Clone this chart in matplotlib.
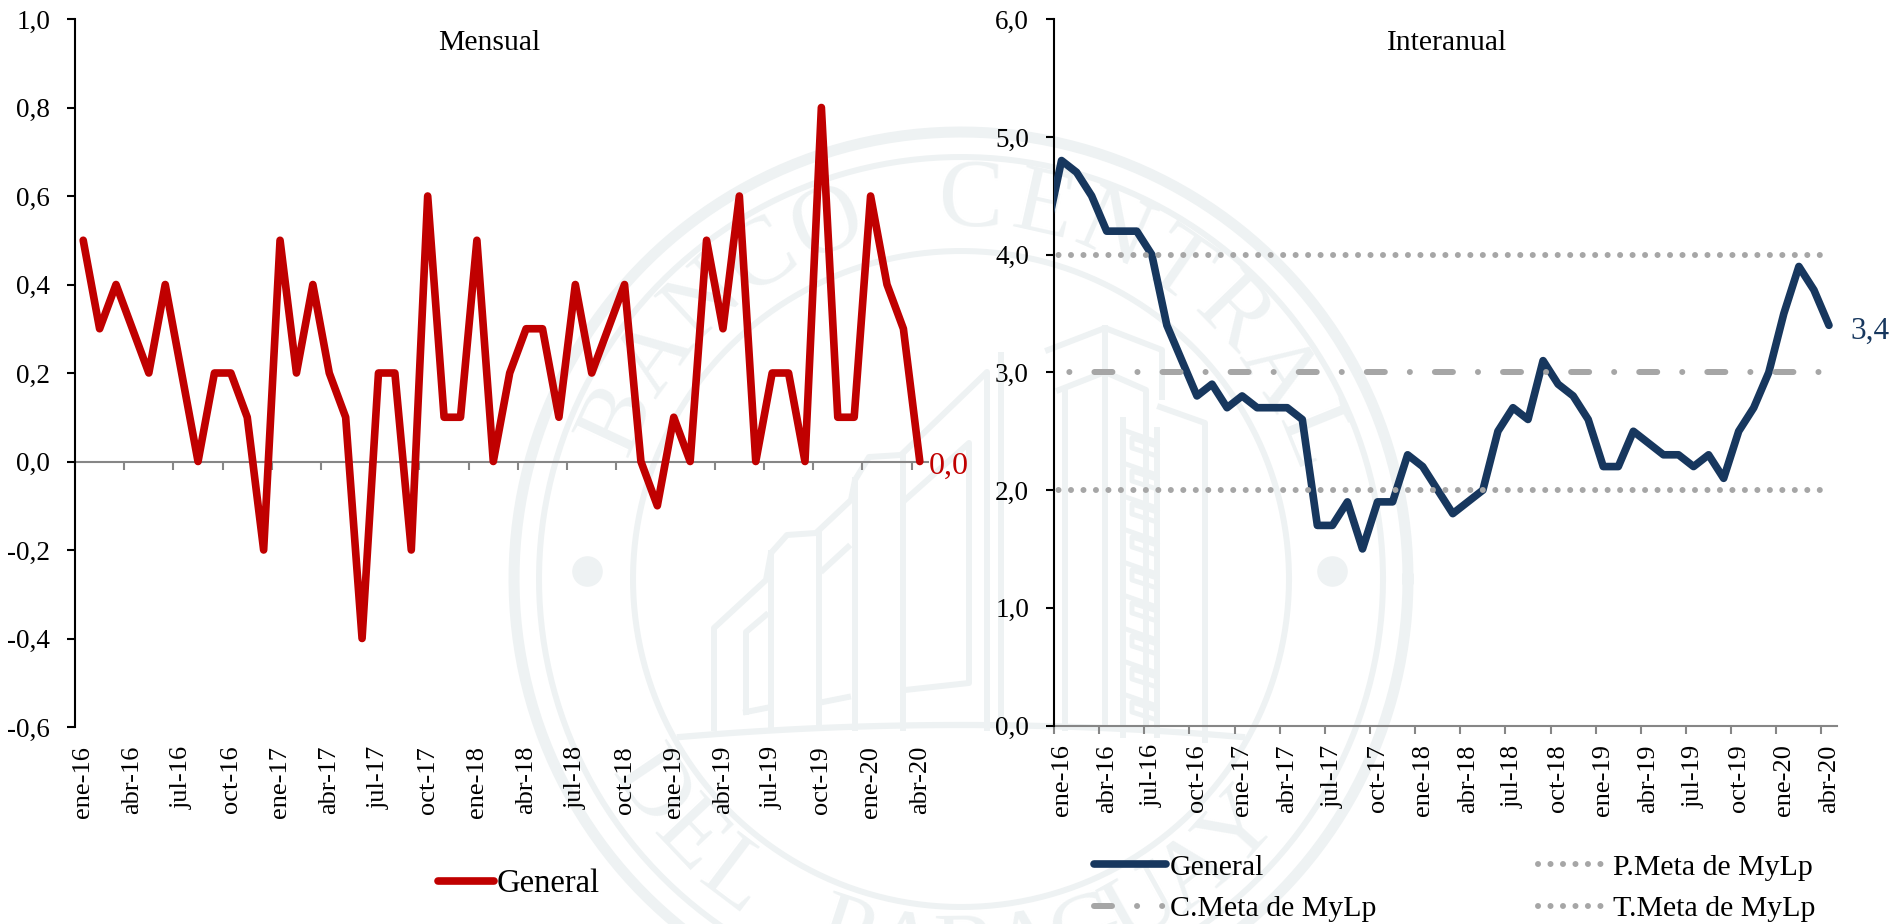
import numpy as np
import matplotlib
matplotlib.use("Agg")
import matplotlib.pyplot as plt
from matplotlib.lines import Line2D

etiquetas = ["ene-16", "abr-16", "jul-16", "oct-16", "ene-17", "abr-17", "jul-17", "oct-17", "ene-18",
             "abr-18", "jul-18", "oct-18", "ene-19", "abr-19", "jul-19", "oct-19", "ene-20", "abr-20"]

mensual = [0.5, 0.3, 0.4, 0.3, 0.2, 0.4, 0.2, 0.0, 0.2, 0.2, 0.1, -0.2, 0.5, 0.2, 0.4, 0.2, 0.1, -0.4,
           0.2, 0.2, -0.2, 0.6, 0.1, 0.1, 0.5, 0.0, 0.2, 0.3, 0.3, 0.1, 0.4, 0.2, 0.3, 0.4, 0.0, -0.1,
           0.1, 0.0, 0.5, 0.3, 0.6, 0.0, 0.2, 0.2, 0.0, 0.8, 0.1, 0.1, 0.6, 0.4, 0.3, 0.0]

# the first value (dic-15) falls left of the axis and gets clipped
interanual = [4.2, 4.8, 4.7, 4.5, 4.2, 4.2, 4.2, 4.0, 3.4, 3.1, 2.8, 2.9, 2.7, 2.8, 2.7, 2.7, 2.7, 2.6,
              1.7, 1.7, 1.9, 1.5, 1.9, 1.9, 2.3, 2.2, 2.0, 1.8, 1.9, 2.0, 2.5, 2.7, 2.6, 3.1, 2.9, 2.8,
              2.6, 2.2, 2.2, 2.5, 2.4, 2.3, 2.3, 2.2, 2.3, 2.1, 2.5, 2.7, 3.0, 3.5, 3.9, 3.7, 3.4]
meta_techo = 4.0
meta_centro = 3.0
meta_piso = 2.0

yticks_mensual = [-0.6, -0.4, -0.2, 0.0, 0.2, 0.4, 0.6, 0.8, 1.0]
yticks_interanual = [0.0, 1.0, 2.0, 3.0, 4.0, 5.0, 6.0]

ROJO = "#C00000"
AZUL = "#17375E"
GRIS = "#A6A6A6"
GRIS_EJE = "#868686"
SELLO = "#EEF2F3"

W, H = 1895, 924
plt.rcParams["font.family"] = ["Liberation Serif", "DejaVu Serif"]
LW = 6 * 72 / 100  # 6 px at dpi 100
PUNTOS = (0, (0.01, 2.07))


def caja(x0, x1, y0, y1):
    return [x0 / W, 1 - y1 / H, (x1 - x0) / W, (y1 - y0) / H]


def sello(fig):
    ax = fig.add_axes([0, 0, 1, 1], zorder=0)
    ax.set_xlim(0, W)
    ax.set_ylim(H, 0)
    ax.axis("off")
    cx, cy = 961, 579

    # rings
    t = np.linspace(0, 2 * np.pi, 400)
    for r, ancho in [(447, 11), (422, 6), (328, 6)]:
        ax.plot(cx + r * np.cos(t), cy + r * np.sin(t), color=SELLO, lw=ancho * 0.72)
    for x in [587, 1332]:
        ax.plot([x], [571], "o", color=SELLO, ms=21)

    # text around the ring
    arriba = "BANCO CENTRAL"
    for i, c in enumerate(arriba):
        ang = 155 - i * (155 - 22) / (len(arriba) - 1)
        a = np.radians(ang)
        ax.text(cx + 377 * np.cos(a), cy - 377 * np.sin(a), c, color=SELLO, fontsize=70,
                rotation=ang - 90, rotation_mode="anchor", ha="center", va="center")
    abajo = "DEL PARAGUAY"
    for i, c in enumerate(abajo):
        ang = 214 + i * (318 - 214) / (len(abajo) - 1)
        a = np.radians(ang)
        ax.text(cx + 377 * np.cos(a), cy - 377 * np.sin(a), c, color=SELLO, fontsize=70,
                rotation=ang + 90, rotation_mode="anchor", ha="center", va="center")

    # base of the building
    xb = np.linspace(680, 1242, 60)
    ax.plot(xb, 725 + 12 * ((xb - cx) / 281) ** 2, color=SELLO, lw=4.5)

    trazos = [
        [(714, 728), (714, 628), (766, 580), (771, 553), (787, 535), (816, 533), (851, 500), (855, 480),
         (869, 457), (901, 455), (987, 372), (987, 728)],
        [(771, 553), (771, 728)], [(819, 533), (819, 728)], [(855, 480), (855, 728)], [(903, 455), (903, 728)],
        [(746, 712), (746, 632), (766, 615)], [(746, 712), (766, 708)],
        [(823, 570), (848, 547)], [(823, 702), (848, 697)],
        [(905, 500), (969, 443), (969, 683), (905, 690)],
        [(1001, 355), (1001, 728)],
        [(1048, 350), (1105, 328), (1162, 350), (1162, 397)],
        [(1059, 390), (1105, 372), (1146, 390), (1146, 728)],
        [(1065, 390), (1065, 728)], [(1105, 328), (1105, 728)],
        [(1160, 407), (1205, 423), (1205, 740)],
        [(1123, 420), (1123, 735)], [(1157, 430), (1157, 735)],
    ]
    for trazo in trazos:
        xs, ys = zip(*trazo)
        ax.plot(xs, ys, color=SELLO, lw=4.3, solid_joinstyle="round")
    # windows of the central column
    for y in range(430, 725, 33):
        ax.plot([1123, 1157, 1157, 1132, 1132, 1157], [y, y + 12, y + 26, y + 18, y + 8, y + 16],
                color=SELLO, lw=3.5)


def ejes(fig, rect, ylim, yticks, pos_cero):
    ax = fig.add_axes(rect, zorder=1)
    ax.patch.set_alpha(0)
    ax.set_xlim(-0.5, 51.5)
    ax.set_ylim(*ylim)
    for lado in ["top", "right", "bottom"]:
        ax.spines[lado].set_visible(False)
    ax.spines["left"].set_linewidth(1.5)
    ax.set_yticks(yticks)
    ax.set_yticklabels([f"{v:.1f}".replace(".", ",") for v in yticks])
    ax.tick_params(axis="y", length=6, width=1.5, pad=12, labelsize=19.5)
    ax.set_xticks(np.arange(0, 52, 3))
    ax.set_xticklabels(etiquetas, rotation=90, ha="center", va="top")
    ax.tick_params(axis="x", length=0, pad=13.5, labelsize=19)

    # axis line with the ticks between the months, crossing at zero
    sec = ax.secondary_xaxis(pos_cero)
    sec.set_xticks(np.arange(-0.5, 51, 3))
    sec.set_xticklabels([])
    sec.spines["bottom"].set_color(GRIS_EJE)
    sec.spines["bottom"].set_linewidth(1.5)
    sec.tick_params(axis="x", length=6, width=1.5, color=GRIS_EJE)
    return ax


def plot_mensual(fig):
    ax = ejes(fig, caja(75, 928, 19, 727), (-0.6, 1.0), yticks_mensual, 0.6 / 1.6)
    linea, = ax.plot(np.arange(52), mensual, color=ROJO, lw=5.5, solid_capstyle="round",
                     solid_joinstyle="round", label="General")
    ax.text(0.486, 0.966, "Mensual", transform=ax.transAxes, ha="center", va="center", fontsize=21.3)
    ax.annotate("0,0", (51, mensual[-1]), xytext=(9, -5), textcoords="offset pixels", color=ROJO,
                fontsize=23, ha="left", va="center")
    ax.legend(handles=[linea], loc="center", bbox_to_anchor=(519 / W, 1 - 884 / H), bbox_transform=fig.transFigure,
              frameon=False, fontsize=23.5, handlelength=1.7, handletextpad=0.1)


def plot_interanual(fig):
    ax = ejes(fig, caja(1054, 1836.5, 19.3, 725.5), (0, 6), yticks_interanual, 0)
    x = np.arange(-1, 52)
    techo, = ax.plot(x, np.full(53, meta_techo), color=GRIS, lw=LW, ls=PUNTOS, dash_capstyle="round",
                     label="T.Meta de MyLp", zorder=4)
    ax.plot(x, np.full(53, meta_centro), color=GRIS, lw=LW, ls=(3.28, (3, 4.17, 0.01, 4.17)),
            dash_capstyle="round", zorder=4)
    piso, = ax.plot(x, np.full(53, meta_piso), color=GRIS, lw=LW, ls=PUNTOS, dash_capstyle="round",
                    label="P.Meta de MyLp", zorder=4)
    linea, = ax.plot(x, interanual, color=AZUL, lw=5.5, solid_capstyle="round", solid_joinstyle="round",
                     label="General", zorder=3)
    ax.text(0.502, 0.966, "Interanual", transform=ax.transAxes, ha="center", va="center", fontsize=21.3)
    ax.annotate("3,4", (51, interanual[-1]), xytext=(21, -6), textcoords="offset pixels", color=AZUL,
                fontsize=22.5, ha="left", va="center", annotation_clip=False)

    # the legend sample shows one dash and two dots
    centro = Line2D([], [], color=GRIS, lw=LW, ls=(0, (3, 4.17, 0.01, 4.17, 0.01, 9)), dash_capstyle="round",
                    label="C.Meta de MyLp")
    ax.legend(handles=[linea, centro, piso, techo], loc="center", ncol=2, bbox_to_anchor=(1455 / W, 1 - 888 / H),
              bbox_transform=fig.transFigure, frameon=False, fontsize=21.5, handlelength=2.4, handletextpad=0.14,
              columnspacing=5.4, labelspacing=0.48)


if __name__ == '__main__':
    fig = plt.figure(figsize=(W / 100, H / 100), dpi=100)
    sello(fig)
    plot_mensual(fig)
    plot_interanual(fig)
    fig.savefig("out.png", dpi=100)
